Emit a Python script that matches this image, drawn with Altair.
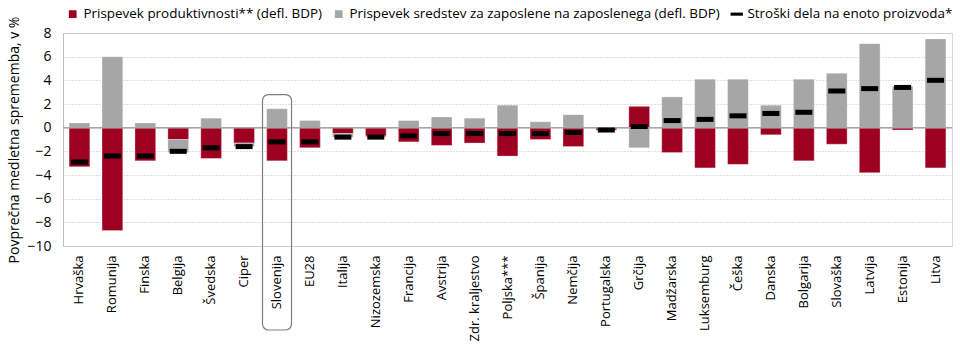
import altair as alt
import pandas as pd

countries = ["Hrvaška", "Romunija", "Finska", "Belgija", "Švedska", "Ciper", "Slovenija",
             "EU28", "Italija", "Nizozemska", "Francija", "Avstrija", "Zdr. kraljestvo",
             "Poljska***", "Španija", "Nemčija", "Portugalska", "Grčija", "Madžarska",
             "Luksemburg", "Češka", "Danska", "Bolgarija", "Slovaška", "Latvija",
             "Estonija", "Litva"]

productivity = [-3.3, -8.7, -2.8, -1.0, -2.6, -1.3, -2.8, -1.7, -0.5, -0.7, -1.2, -1.5, -1.3,
                -2.4, -1.0, -1.6, -0.2, 1.8, -2.1, -3.4, -3.1, -0.6, -2.8, -1.4, -3.8, -0.2, -3.4]
compensation = [0.4, 6.0, 0.4, -1.1, 0.8, -0.3, 1.6, 0.6, -0.3, -0.1, 0.6, 0.9, 0.8,
                1.9, 0.5, 1.1, 0.0, -1.7, 2.6, 4.1, 4.1, 1.9, 4.1, 4.6, 7.1, 3.5, 7.5]
ulc = [-2.9, -2.4, -2.4, -2.0, -1.7, -1.6, -1.2, -1.2, -0.8, -0.8, -0.7, -0.5, -0.5,
       -0.5, -0.5, -0.4, -0.2, 0.1, 0.6, 0.7, 1.0, 1.2, 1.3, 3.1, 3.3, 3.4, 4.0]

series_names = ["Prispevek produktivnosti** (defl. BDP)",
                "Prispevek sredstev za zaposlene na zaposlenega (defl. BDP)",
                "Stroški dela na enoto proizvoda*"]
series_colors = ["#9E0022", "#A6A6A6", "#000000"]
series_shapes = ["square", "square", "M-1.6,-0.4H1.6V0.4H-1.6Z"]

highlight_country = ["Slovenija"]
highlight_top = [2.8]
highlight_bottom = [-17.1]

y_ticks = [8, 6, 4, 2, 0, -2, -4, -6, -8, -10]

rows = []
for i, c in enumerate(countries):
    rows.append({"country": c, "series": series_names[0], "value": productivity[i], "ord": 0})
    rows.append({"country": c, "series": series_names[1], "value": compensation[i], "ord": 1})
bars_df = pd.DataFrame(rows)
ulc_df = pd.DataFrame({"country": countries, "value": ulc, "series": series_names[2]})
hl_df = pd.DataFrame({"country": highlight_country, "top": highlight_top, "bottom": highlight_bottom})
zero_df = pd.DataFrame({"y": [0]})
legend_df = pd.DataFrame({"series": series_names})

FONT = "Open Sans"
YTITLE = "Povprečna medletna sprememba, v %"

xaxis = alt.Axis(labelAngle=-90, labelAlign="right", labelBaseline="middle",
                 labelPadding=9, labelFont=FONT, labelFontSize=13,
                 labelColor="#000000", ticks=False, domain=False, grid=False)
xscale = alt.Scale(paddingInner=0.37, paddingOuter=0.185)
yaxis = alt.Axis(values=y_ticks, tickCount=10, grid=True, gridColor="#BFBFBF", gridDash=[1, 2],
                 gridWidth=1, domain=True, domainColor="#BFBFBF", ticks=False,
                 labelOverlap=False, labelFlush=False, labelBound=False,
                 labelPadding=12, labelFont=FONT, labelFontSize=14,
                 labelColor="#000000", titleFont=FONT, titleFontSize=14,
                 titleFontWeight="normal", titleColor="#000000", titlePadding=5)
yscale = alt.Scale(domain=[-10, 8], nice=False, zero=False)

color_scale = alt.Scale(domain=series_names, range=series_colors)


def xenc():
    return alt.X("country:N", sort=countries, title=None, scale=xscale, axis=xaxis)


bars = alt.Chart(bars_df).mark_bar(stroke="#FFFFFF", strokeWidth=0.5, strokeOpacity=0.6).encode(
    x=xenc(),
    y=alt.Y("value:Q", scale=yscale, stack="zero", title=YTITLE, axis=yaxis),
    color=alt.Color("series:N", scale=color_scale, legend=None),
    order=alt.Order("ord:Q"),
)

zero = alt.Chart(zero_df).mark_rule(color="#A6A6A6", strokeWidth=1.5).encode(
    y=alt.Y("y:Q", scale=yscale, title=YTITLE, axis=yaxis)
)

ticks = alt.Chart(ulc_df).mark_tick(thickness=5, size=17, opacity=1).encode(
    x=xenc(),
    y=alt.Y("value:Q", scale=yscale, title=YTITLE, axis=yaxis),
    color=alt.Color("series:N", scale=color_scale, legend=None),
)

highlight = alt.Chart(hl_df).mark_bar(size=29, cornerRadius=6, fill=None, fillOpacity=0,
                                      stroke="#7F7F7F", strokeWidth=1.2, clip=False).encode(
    x=xenc(),
    y=alt.Y("top:Q", scale=yscale, title=YTITLE, axis=yaxis),
    y2="bottom:Q",
)

legend_layer = alt.Chart(legend_df).transform_filter("false").mark_point(filled=True, opacity=1).encode(
    color=alt.Color("series:N", scale=color_scale,
                    legend=alt.Legend(title=None, orient="none", legendX=3, legendY=-26,
                                      direction="horizontal", columns=3, columnPadding=10,
                                      labelFont=FONT, labelFontSize=13.45, labelColor="#000000",
                                      labelLimit=600, symbolSize=60, labelOffset=4,
                                      symbolStrokeWidth=0, symbolOpacity=1)),
    shape=alt.Shape("series:N", scale=alt.Scale(domain=series_names, range=series_shapes)),
)

chart = alt.layer(bars, zero, ticks, highlight, legend_layer).resolve_scale(
    y="shared", x="shared", color="shared"
).resolve_legend(color="independent", shape="independent").properties(
    width=889, height=213,
    autosize=alt.AutoSizeParams(type="none"),
    padding={"left": 63, "top": 33, "right": 8, "bottom": 104},
).configure_view(stroke="#D9D9D9", strokeWidth=1).configure_axisY(labelOverlap=False)

chart.save("out.html", embed_options={"renderer": "svg", "actions": False})
